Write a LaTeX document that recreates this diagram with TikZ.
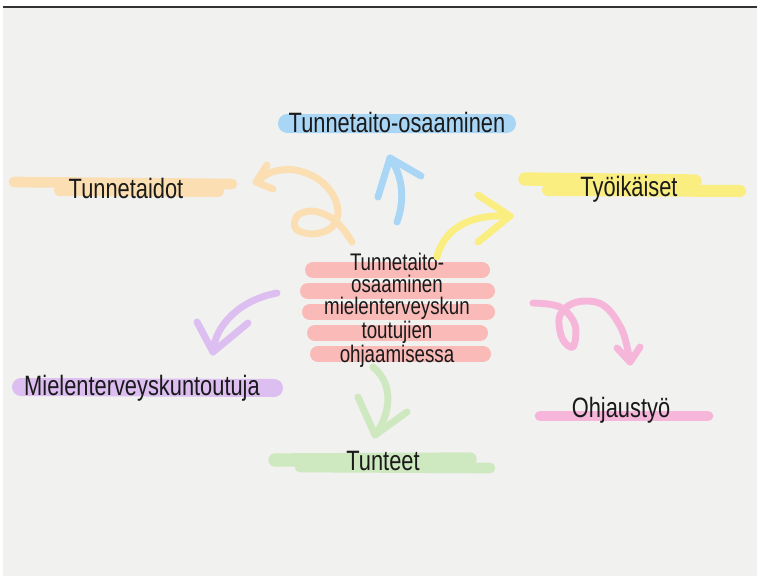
\documentclass[tikz,border=0pt]{standalone}
\usepackage{fontspec}
\setmainfont[FakeStretch=0.78]{Liberation Sans}

\definecolor{paper}{RGB}{241,241,240}
\definecolor{ink}{RGB}{26,26,26}
\definecolor{sky}{RGB}{170,214,246}
\definecolor{peach}{RGB}{251,222,178}
\definecolor{lemon}{RGB}{251,238,128}
\definecolor{salmon}{RGB}{249,186,184}
\definecolor{lilac}{RGB}{220,190,240}
\definecolor{rose}{RGB}{245,182,218}
\definecolor{mint}{RGB}{206,232,192}

\begin{document}
\begin{tikzpicture}
  [x=0.75pt, y=-0.75pt,
   lbl/.style={font=\fontsize{21}{24}\selectfont, text=ink, inner sep=0pt, anchor=base},
   hl/.style={line width=#1, line cap=round},
   brush/.style={line width=5.2pt, line cap=round, line join=round}]

  \useasboundingbox (0,0) rectangle (760,578);
  \fill[paper] (3,8) rectangle (757,576);
  \draw[black!80, line width=1.6pt] (3,7) -- (757,7);

  % highlights
  \fill[sky, rounded corners=7] (278,114) rectangle (516,133);
  \draw[peach, hl=8pt] (14,182) -- (232,184);
  \draw[peach, hl=9pt] (60,190) -- (218,191);
  \draw[lemon, hl=10pt] (525,179) -- (695,181);
  \draw[lemon, hl=9pt] (548,190) -- (740,191);
  \draw[lilac, hl=13.5pt] (21,387) -- (274,388);
  \draw[rose, hl=8pt] (540,416) -- (708,416);
  \draw[mint, hl=10pt] (275,460) -- (470,459);
  \draw[mint, hl=8pt] (300,467) -- (490,468);
  \foreach \y/\a/\b in {270/313/482, 291/308/487, 312/310/487, 333/315/480, 354/318/483}
    \draw[salmon, hl=12pt] (\a,\y) -- (\b,\y);

  % labels
  \node[lbl] (osaaminen) at (397,132) {Tunnetaito-osaaminen};
  \node[lbl] (taidot) at (126,198) {Tunnetaidot};
  \node[lbl] (tyoikaiset) at (629,196) {Työikäiset};
  \node[lbl] (kuntoutuja) at (142,395) {Mielenterveyskuntoutuja};
  \node[lbl] (ohjaus) at (621,417) {Ohjaustyö};
  \node[lbl] (tunteet) at (383,470) {Tunteet};
  \node[font=\fontsize{18}{16.6}\selectfont, text=ink, align=center, inner sep=0pt]
    (keskus) at (397,310) {Tunnetaito-\\osaaminen\\mielenterveyskun\\toutujien\\ohjaamisessa};

  % arrows
  \coordinate (s1) at (397,222); \coordinate (t1) at (390,158);
  \draw[brush, sky] (s1) .. controls (405,200) and (403,176) .. (t1);
  \draw[brush, sky] (378,197) -- (t1) -- (421,176);

  \coordinate (s2) at (352,242); \coordinate (t2) at (256,182);
  \draw[brush, peach] plot[smooth, tension=0.6] coordinates
    {(s2) (343,229) (330,217) (312,211) (297,216) (296,229) (313,234) (331,228)
     (338,213) (333,195) (318,179) (295,170) (272,172) (t2)};
  \draw[brush, peach] (267,165) -- (t2) -- (273,189);

  \coordinate (s3) at (437,257); \coordinate (t3) at (510,216);
  \draw[brush, lemon] (s3) .. controls (445,225) and (475,214) .. (t3);
  \draw[brush, lemon] (478,195) -- (t3) -- (478,242);

  \coordinate (s4) at (277,293); \coordinate (t4) at (213,352);
  \draw[brush, lilac] (s4) .. controls (240,300) and (215,325) .. (t4);
  \draw[brush, lilac] (197,322) -- (t4) -- (248,323);

  \coordinate (s5) at (533,303); \coordinate (t5) at (630,362);
  \draw[brush, rose] plot[smooth, tension=0.6] coordinates
    {(s5) (560,307) (575,325) (573,347) (562,338) (560,315) (577,302) (603,305) (622,330) (t5)};
  \draw[brush, rose] (617,348) -- (t5) -- (640,347);

  \coordinate (s6) at (373,367); \coordinate (t6) at (375,435);
  \draw[brush, mint] (s6) .. controls (395,385) and (390,415) .. (t6);
  \draw[brush, mint] (358,397) -- (t6) -- (407,412);
\end{tikzpicture}
\end{document}
